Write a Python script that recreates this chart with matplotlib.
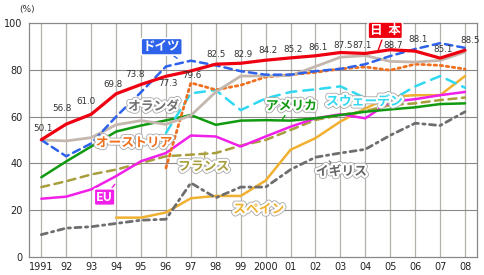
import matplotlib
matplotlib.use("Agg")
import matplotlib.pyplot as plt
import matplotlib.patheffects as pe
import numpy as np

plt.rcParams["font.family"] = ["DejaVu Sans"]

nan = np.nan
years = ["1991", "92", "93", "94", "95", "96", "97", "98", "99", "2000",
         "01", "02", "03", "04", "05", "06", "07", "08"]

japan = [50.1, 56.8, 61.0, 69.8, 73.8, 77.3, 79.6, 82.5, 82.9, 84.2,
         85.2, 86.1, 87.5, 87.1, 88.7, 88.1, 85.1, 88.5]
germany = [50.0, 43.0, 48.5, 60.0, 70.5, 81.5, 84.0, 82.0, 79.5, 78.0,
           78.0, 79.5, 80.5, 82.5, 86.0, 89.0, 91.5, 89.5]
netherlands = [50.0, 49.6, 51.0, 56.5, 58.3, 56.7, 60.5, 70.6, 77.4, 77.5,
               77.6, 81.5, 85.5, 86.2, 83.7, 83.4, 84.1, 87.7]
austria = [nan, nan, nan, nan, nan, 38.0, 74.5, 71.5, 73.5, 77.0,
           78.0, 79.0, 80.5, 81.3, 79.9, 82.5, 82.0, 80.4]
sweden = [nan, nan, nan, nan, nan, 53.0, 70.0, 71.4, 62.8, 67.8,
          70.6, 71.7, 73.0, 68.0, 66.8, 73.0, 77.4, 72.4]
usa = [34.0, 40.8, 47.2, 53.6, 56.2, 58.4, 60.7, 56.5, 58.3, 58.5,
       58.3, 59.3, 60.7, 62.1, 63.1, 64.0, 65.4, 65.7]
eu = [24.8, 25.7, 28.8, 34.5, 40.9, 44.4, 51.9, 51.5, 47.2, 51.5,
      55.7, 59.3, 61.0, 59.3, 66.4, 67.5, 69.2, 70.6]
france = [29.8, 32.3, 35.2, 37.3, 40.1, 43.0, 43.7, 44.4, 47.6, 50.0,
          54.3, 58.6, 60.7, 62.4, 65.0, 65.7, 67.1, 68.2]
spain = [nan, nan, nan, 16.7, 16.7, 18.9, 25.0, 26.0, 26.0, 32.6,
         45.8, 50.8, 57.9, 63.5, 68.5, 69.2, 69.2, 77.4]
uk = [9.4, 12.2, 12.8, 14.2, 15.6, 16.0, 31.6, 25.2, 29.8, 29.8,
      37.3, 42.6, 44.4, 46.0, 52.0, 57.2, 56.2, 62.1]

x = np.arange(len(years))

fig = plt.figure(figsize=(4.85, 2.75), dpi=100)
ax = fig.add_axes([0.0605, 0.067, 0.923, 0.848])

# grid
for xi in x:
    ax.axvline(xi, color="#b4b0ac", lw=0.9, zorder=0)
for yv in [20, 40, 60, 80]:
    ax.axhline(yv, color="#8c8888", lw=0.8, zorder=0)

series = [
    (spain, "#f0b030", "-", 1.8),
    (uk, "#6e6e6e", (0, (2.2, 1.6, 0.8, 1.6)), 2.0),
    (france, "#a89e3c", (0, (3.2, 2.2)), 1.8),
    (eu, "#f020e8", "-", 1.8),
    (usa, "#109a10", "-", 1.8),
    (sweden, "#30d8f0", (0, (4.0, 2.8)), 1.8),
    (austria, "#f07020", (0, (0.9, 1.3)), 2.0),
    (netherlands, "#c4b8ae", "-", 2.0),
    (germany, "#2e62ea", (0, (3.0, 2.0)), 1.8),
    (japan, "#ee0010", "-", 2.3),
]
for vals, col, ls, lw in series:
    ax.plot(x, vals, color=col, linestyle=ls, lw=lw,
            solid_capstyle="round", dash_capstyle="round", zorder=3)

ax.set_xlim(-0.48, 17.48)
ax.set_ylim(0, 100)
ax.set_xticks(x)
ax.set_xticklabels(years)
ax.set_yticks([0, 20, 40, 60, 80, 100])
ax.tick_params(length=0, labelsize=7, colors="#222222")
ax.tick_params(axis="y", pad=5)
ax.tick_params(axis="x", pad=4)
for side in ["left", "bottom", "top", "right"]:
    ax.spines[side].set_color("#888888")
    ax.spines[side].set_linewidth(0.9)

fig.text(0.055, 0.965, "(%)", fontsize=6.5, color="#333333", ha="center", va="center")

# value labels for Japan (offsets in points)
label_dy = [8.1, 11.2, 9, 6.5, 7, -5.5, -3.6, 7.2, 6.6, 7.3, 6.3, 6.3, 5.3, 6, 3.3, 8.6, 6.5, 7.2]
label_dx = [1.2, -3.4, -3.4, -2.4, -4.5, 1.4, 1, 0, 1.8, 1.4, 1.6, 1.6, 2, -2.4, 2.2, 2.2, 2.2, 3.6]
for xi, v, dy, dx in zip(x, japan, label_dy, label_dx):
    ax.annotate(f"{v:.1f}", (xi, v), xytext=(dx, dy), textcoords="offset points",
                ha="center", va="center", fontsize=6.3, color="#333333", zorder=6)

jp = ["Noto Sans CJK JP", "DejaVu Sans"]
outline = [pe.withStroke(linewidth=4.4, foreground="#a8a8a8"),
           pe.withStroke(linewidth=3.2, foreground="white")]


def tag(text, pos, color, tip=None):
    ax.annotate(text, xy=tip if tip else pos, xytext=pos, textcoords="data",
                ha="center", va="center", fontsize=9.2, fontweight="bold",
                family=jp, color=color, path_effects=outline, zorder=8,
                arrowprops=dict(arrowstyle="-", color=color, lw=0.9,
                                shrinkA=0, shrinkB=0) if tip else None)


def boxtag(text, pos, color, tip):
    ax.annotate(text, xy=tip, xytext=pos, textcoords="data",
                ha="center", va="center", fontsize=9, fontweight="bold",
                family=jp, color="white", zorder=9,
                bbox=dict(boxstyle="round,pad=0.15", fc=color, ec="white", lw=1.2),
                arrowprops=dict(arrowstyle="-", color=color, lw=1.0,
                                shrinkA=0, shrinkB=0))


boxtag("日  本", (13.8, 97.0), "#ee0010", (13.5, 88.0))
boxtag("ドイツ", (4.83, 90.0), "#2e62ea", (5.45, 85.0))
boxtag("EU", (2.54, 25.5), "#f020e8", (2.95, 31.0))
tag("オランダ", (4.5, 64.3), "#707070")
tag("オーストリア", (3.72, 48.7), "#f07020", (5.17, 52.3))
tag("フランス", (6.51, 38.5), "#a89e3c", (6.57, 45.0))
tag("スペイン", (8.72, 20.2), "#f0b030")
tag("イギリス", (12.04, 36.4), "#666666", (11.55, 41.0))
tag("アメリカ", (10.03, 64.5), "#109a10", (9.65, 58.5))
tag("スウェーデン", (12.96, 66.4), "#30d8f0")

fig.savefig("out.png", dpi=100)
